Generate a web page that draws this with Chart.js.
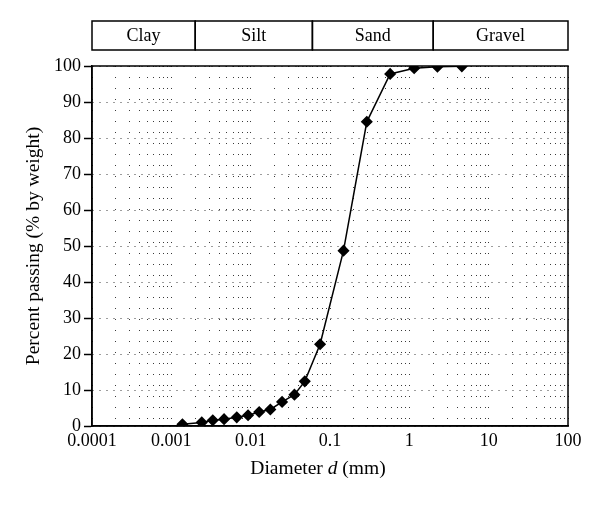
<!DOCTYPE html>
<html>
<head>
<meta charset="utf-8">
<script src="https://cdn.jsdelivr.net/npm/chart.js@4.4.1/dist/chart.umd.min.js"></script>
<style>
html, body { margin: 0; padding: 0; background: #fff; }
#wrap { width: 600px; height: 505px; }
</style>
</head>
<body>
<div id="wrap"><canvas id="canvas"></canvas></div>
<script>
let diameters = [0.00138, 0.00242, 0.00333, 0.00462, 0.00668, 0.00927, 0.0128, 0.0177, 0.0249, 0.0356, 0.0481, 0.075, 0.148, 0.291, 0.573, 1.15, 2.26, 4.59];
let passing = [0.5, 1.0, 1.6, 1.9, 2.4, 3.0, 3.9, 4.6, 6.7, 8.7, 12.4, 22.7, 48.7, 84.5, 97.8, 99.4, 99.8, 99.9];
let soilNames = ["Clay", "Silt", "Sand", "Gravel"];
let soilBounds = [0.0001, 0.002, 0.06, 2, 100];
let xTickLabels = ["0.0001", "0.001", "0.01", "0.1", "1", "10", "100"];
let yTicks = [0, 10, 20, 30, 40, 50, 60, 70, 80, 90, 100];

let serif = "'Liberation Serif', 'DejaVu Serif', serif";
let colorBlack = "#000000";
let colorDots = "#3a3a3a";

// 1..9 in every decade between the first and last labelled tick
function decadeTicks() {
    let ticks = [];
    let e0 = Math.round(Math.log10(parseFloat(xTickLabels[0])));
    let e1 = Math.round(Math.log10(parseFloat(xTickLabels[xTickLabels.length - 1])));
    for (let e = e0; e < e1; e++) {
        for (let k = 1; k <= 9; k++) {
            ticks.push({value: parseFloat((k * Math.pow(10, e)).toPrecision(3))});
        }
    }
    ticks.push({value: Math.pow(10, e1)});
    return ticks;
}

let soilBand = {
    id: "soilBand",
    afterDraw: (chart) => {
        let ctx = chart.ctx;
        let xs = chart.scales.x;
        let area = chart.chartArea;
        ctx.save();
        // frame round the plot
        ctx.strokeStyle = colorBlack;
        ctx.lineWidth = 1.5;
        ctx.strokeRect(area.left, area.top, area.right - area.left, area.bottom - area.top);
        // soil classes along the top
        ctx.font = "18px " + serif;
        ctx.textAlign = "center";
        ctx.textBaseline = "middle";
        ctx.fillStyle = colorBlack;
        for (let i = 0; i < soilNames.length; i++) {
            let x0 = xs.getPixelForValue(soilBounds[i]);
            let x1 = xs.getPixelForValue(soilBounds[i + 1]);
            ctx.strokeRect(x0, 21, x1 - x0, 29);
            ctx.fillText(soilNames[i], (x0 + x1) / 2, 36);
        }
        // x title with italic d
        let parts = [["Diameter ", ""], ["d", "italic "], [" (mm)", ""]];
        let total = 0;
        parts.forEach((p) => { ctx.font = p[1] + "19.5px " + serif; p.push(ctx.measureText(p[0]).width); total += p[2]; });
        let x = (area.left + area.right) / 2 - 12 - total / 2;
        ctx.textAlign = "left";
        parts.forEach((p) => {
            ctx.font = p[1] + "19.5px " + serif;
            ctx.fillText(p[0], x, 469);
            x += p[2];
        });
        ctx.restore();
    }
};

new Chart(document.getElementById("canvas").getContext("2d"), {
    type: "line",
    data: {
        datasets: [{
            data: diameters.map((d, i) => ({x: d, y: passing[i]})),
            borderColor: colorBlack,
            backgroundColor: colorBlack,
            borderWidth: 1.5,
            pointStyle: "rectRot",
            pointRadius: 5,
            pointHoverRadius: 5,
            tension: 0
        }]
    },
    options: {
        responsive: true,
        maintainAspectRatio: false,
        animation: false,
        layout: {
            padding: {top: 66, right: 32, left: 0, bottom: 0}
        },
        plugins: {
            legend: {display: false},
            tooltip: {enabled: false}
        },
        scales: {
            x: {
                type: "logarithmic",
                min: 0.0001,
                max: 100,
                afterBuildTicks: (scale) => { scale.ticks = decadeTicks(); },
                afterFit: (scale) => { scale.height = 79; },
                ticks: {
                    autoSkip: false,
                    maxRotation: 0,
                    padding: 4,
                    color: colorBlack,
                    font: {family: serif, size: 18},
                    callback: (value) => {
                        let i = xTickLabels.findIndex((t) => Math.abs(Math.log10(parseFloat(t)) - Math.log10(value)) < 1e-6);
                        return i >= 0 ? xTickLabels[i] : "";
                    }
                },
                grid: {
                    color: colorDots,
                    lineWidth: 1,
                    drawTicks: false
                },
                border: {
                    color: colorBlack,
                    width: 1.5,
                    dash: [1, 10]
                }
            },
            y: {
                min: 0,
                max: 100,
                afterBuildTicks: (scale) => { scale.ticks = yTicks.map((v) => ({value: v})); },
                afterFit: (scale) => { scale.width = 92; },
                ticks: {
                    padding: 3,
                    color: colorBlack,
                    font: {family: serif, size: 18}
                },
                grid: {
                    color: colorDots,
                    lineWidth: 1,
                    drawTicks: true,
                    tickLength: 8,
                    tickColor: colorBlack,
                    tickWidth: 1.5,
                    tickBorderDash: []
                },
                border: {
                    color: colorBlack,
                    width: 1.5,
                    dash: [1, 6]
                },
                title: {
                    display: true,
                    text: "Percent passing (% by weight)",
                    color: colorBlack,
                    font: {family: serif, size: 19.5},
                    padding: {top: 22, bottom: 0}
                }
            }
        }
    },
    plugins: [soilBand]
});
</script>
</body>
</html>
